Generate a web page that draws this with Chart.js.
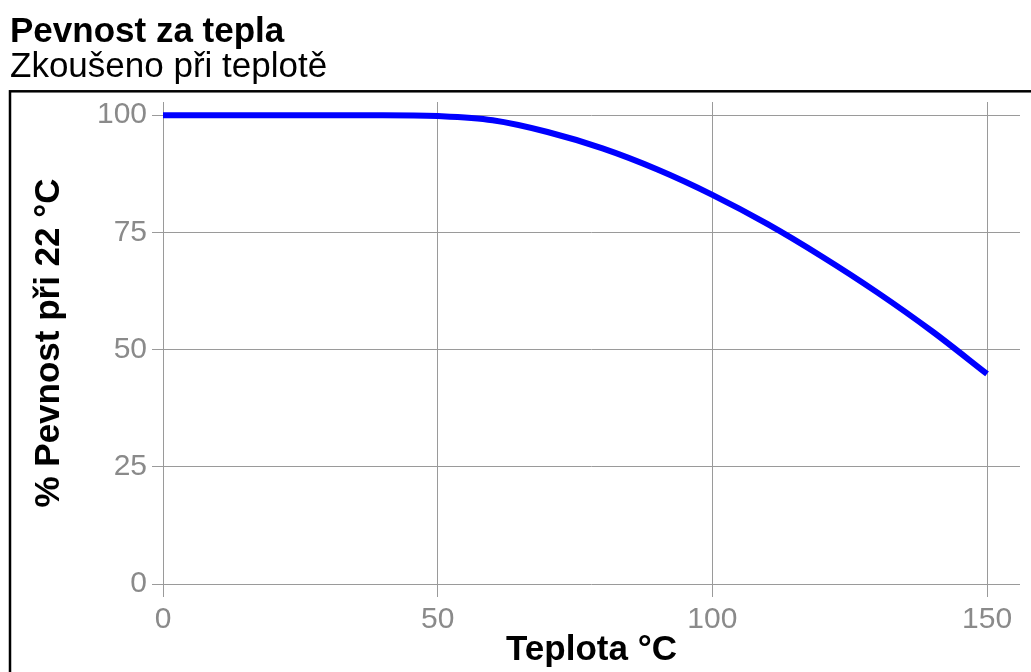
<!DOCTYPE html>
<html>
<head>
<meta charset="utf-8">
<title>Pevnost za tepla</title>
<script src="https://cdn.jsdelivr.net/npm/chart.js@4/dist/chart.umd.min.js"></script>
<style>
    html, body { margin: 0; padding: 0; background: #ffffff; }
    #wrap { width: 1031px; height: 672px; }
</style>
</head>
<body>
<div id="wrap"><canvas id="chart" width="1031" height="672"></canvas></div>
<script>
/**
 *  Heat strength chart: % of strength at 22 °C versus test temperature.
 */
var temperatures = [ 0, 10, 20, 30, 40, 50, 60, 70, 80, 90, 100, 110, 120, 130, 140, 150 ];
var strength     = [ 100, 100, 100, 100, 100, 99.8, 98.9, 96.4, 92.9, 88.4, 83, 76.8, 69.8, 62.2, 53.9, 44.8 ];
var xTicks       = [ 0, 50, 100, 150 ];
var yTicks       = [ 0, 25, 50, 75, 100 ];

var titleText    = 'Pevnost za tepla';
var subtitleText = 'Zkoušeno při teplotě';
var xTitle       = 'Teplota °C';
var yTitle       = '% Pevnost při 22 °C';

Chart.defaults.font.family = '"Liberation Sans", Arial, sans-serif';

// black frame round the plot, open to the right and bottom edges
var framePlugin = {
    id: 'frame',
    beforeDraw: function( chart ) {
        var ctx = chart.ctx;
        ctx.save();
        ctx.strokeStyle = '#000000';
        ctx.lineWidth   = 2.5;
        ctx.strokeRect( 10, 91.3, 1060, 700 );
        ctx.restore();
    }
};

var points = temperatures.map( function( t, i ) {
    return { x: t, y: strength[ i ] };
});

new Chart( document.getElementById( 'chart' ), {
    type: 'line',
    data: {
        datasets: [{
            data                   : points,
            borderColor            : '#0000ff',
            borderWidth            : 6,
            borderCapStyle         : 'butt',
            pointRadius            : 0,
            cubicInterpolationMode : 'monotone',
            fill                   : false
        }]
    },
    options: {
        responsive : false,
        animation  : false,
        layout     : { padding: { top: 0, left: 10, right: 11, bottom: 0 } },
        plugins: {
            legend  : { display: false },
            tooltip : { enabled: false },
            title: {
                display : true,
                text    : titleText,
                align   : 'start',
                color   : '#000000',
                font    : { size: 35, weight: 'bold', lineHeight: 1 },
                padding : { top: 15, bottom: 0 }
            },
            subtitle: {
                display : true,
                text    : subtitleText,
                align   : 'start',
                color   : '#000000',
                font    : { size: 35, weight: 'normal', lineHeight: 1 },
                padding : { top: 0, bottom: 17 }
            }
        },
        scales: {
            x: {
                type   : 'linear',
                min    : 0,
                max    : 156,
                border : { display: false },
                grid   : { color: '#9a9a9a', lineWidth: 1, tickLength: 13, drawTicks: true },
                ticks  : { color: '#8a8a8a', font: { size: 30 }, padding: 5, maxRotation: 0 },
                afterBuildTicks: function( scale ) {
                    scale.ticks = xTicks.map( function( v ) { return { value: v }; } );
                },
                afterFit: function( scale ) { scale.height = 88; },
                title: {
                    display : true,
                    text    : xTitle,
                    color   : '#000000',
                    font    : { size: 35, weight: 'bold', lineHeight: 1 },
                    padding : { top: 0, bottom: 4 }
                }
            },
            y: {
                type   : 'linear',
                min    : 0,
                max    : 102.8,
                border : { display: false },
                grid   : { color: '#9a9a9a', lineWidth: 1, tickLength: 11, drawTicks: true },
                ticks  : { color: '#8a8a8a', font: { size: 30 }, padding: 5 },
                afterBuildTicks: function( scale ) {
                    scale.ticks = yTicks.map( function( v ) { return { value: v }; } );
                },
                afterFit: function( scale ) { scale.width = 153; },
                title: {
                    display : true,
                    text    : yTitle,
                    color   : '#000000',
                    font    : { size: 35, weight: 'bold', lineHeight: 1 },
                    padding : { top: 22, bottom: 0 }
                }
            }
        }
    },
    plugins: [ framePlugin ]
});
</script>
</body>
</html>
